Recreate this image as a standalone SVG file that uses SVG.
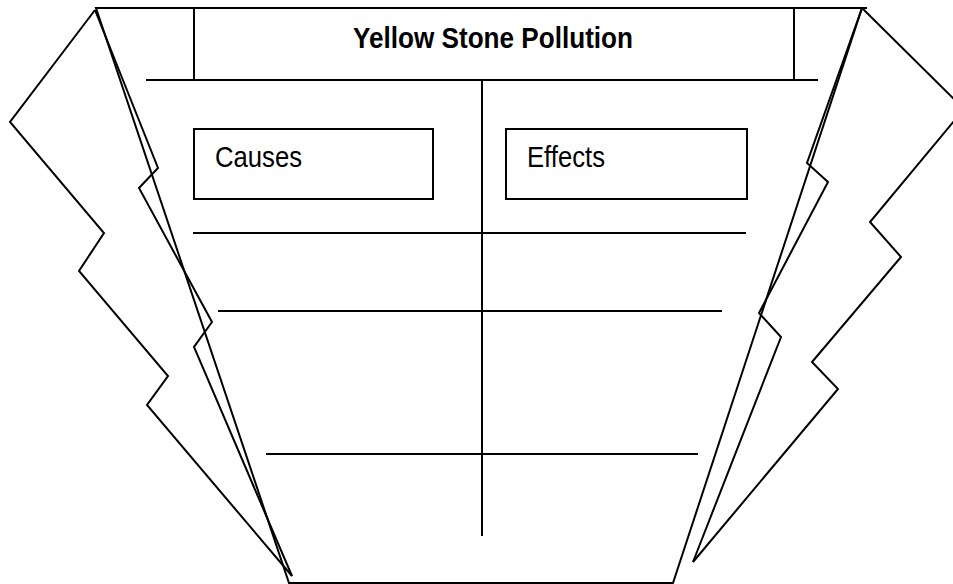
<svg xmlns="http://www.w3.org/2000/svg" width="953" height="584" viewBox="0 0 953 584">
<style>
.ln{fill:none;stroke:#000;stroke-width:2;stroke-linejoin:miter;stroke-linecap:butt}
.bx{fill:#fff;stroke:#000;stroke-width:2}
.t{font-family:"Liberation Sans",Arial,sans-serif;font-size:29px;fill:#000}
.tb{font-weight:bold}
</style>
<rect width="953" height="584" fill="#fff"/>
<g id="frame">
<polyline class="ln" points="95,10 10,122 104,233 79,271 168,376 147,405 292,576"/>
<polyline class="ln" points="95,10 158,168 139,188 212,322 194,347 292,576"/>
<polyline class="ln" points="862,8 964,109 870,222 901,257 812,362 838,389 693,562"/>
<polyline class="ln" points="862,8 807,163 828,182 759,313 781,337 693,562"/>
<polygon class="ln" points="96,8 867,8 862,8 673,583 289,583"/>
</g>
<g id="title">
<polyline class="ln" points="194,8 194,80"/>
<polyline class="ln" points="794,8 794,80"/>
<text class="t tb" x="353" y="48" textLength="280" lengthAdjust="spacingAndGlyphs">Yellow Stone Pollution</text>
</g>
<g id="connectors">
<line class="ln" x1="146" y1="80" x2="818" y2="80"/>
<line class="ln" x1="482" y1="80" x2="482" y2="536"/>
<line class="ln" x1="193" y1="233" x2="746" y2="233"/>
<line class="ln" x1="218" y1="311" x2="722" y2="311"/>
<line class="ln" x1="266" y1="454" x2="698" y2="454"/>
</g>
<g id="causes">
<rect class="bx" x="194" y="129" width="239" height="70"/>
<text class="t" x="215" y="167" textLength="87" lengthAdjust="spacingAndGlyphs">Causes</text>
</g>
<g id="effects">
<rect class="bx" x="506" y="129" width="241" height="70"/>
<text class="t" x="527" y="167" textLength="78" lengthAdjust="spacingAndGlyphs">Effects</text>
</g>
</svg>
